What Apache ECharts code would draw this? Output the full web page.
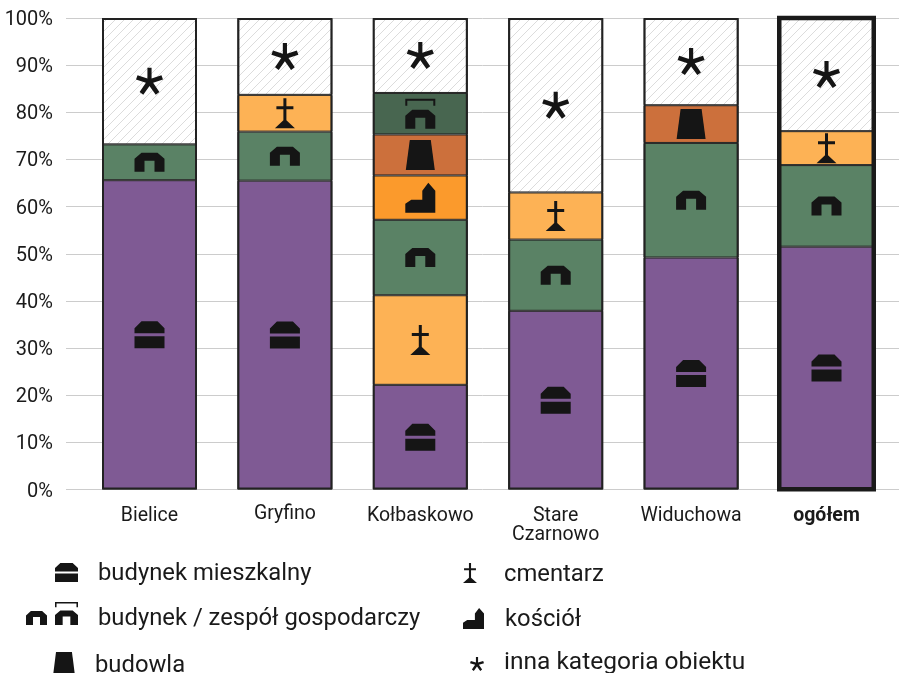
<!DOCTYPE html>
<html>
<head>
<meta charset="utf-8">
<style>
  html, body { margin: 0; padding: 0; background: #fff; }
  #chart { width: 899px; height: 673px; }
</style>
<script src="https://cdn.jsdelivr.net/npm/echarts@6/dist/echarts.min.js"></script>
</head>
<body>
<div id="chart"></div>
<script>
const categories = ['Bielice', 'Gryfino', 'Kołbaskowo', 'Stare\nCzarnowo', 'Widuchowa', 'ogółem'];
const yTicks = [0, 10, 20, 30, 40, 50, 60, 70, 80, 90, 100];

// stack order is bottom to top, Kołbaskowo has the cemetery under the farm block
const mieszkalny = [65.6, 65.5, 22.2, 37.9, 49.2, 51.5];
const cmentarzDol = [null, null, 19.0, null, null, null];
const gospodarczy = [7.6, 10.4, 16.0, 15.1, 24.3, 17.3];
const cmentarz = [null, 7.8, null, 10.0, null, 7.2];
const kosciol = [null, null, 9.4, null, null, null];
const budowla = [null, null, 8.7, null, 8.0, null];
const zespol = [null, null, 8.8, null, null, null];
const inna = [26.8, 16.3, 15.9, 37.0, 18.5, 24.0];
const outlineBars = [100, 100, 100, 100, 100, null];
const ogolemFrame = [null, null, null, null, null, 100];

const ICON_HOUSE = 'M7 0H23L30 7V12H0V7ZM0 15H30V27H0Z';
const ICON_FARM = 'M7 0H23L30 6V19H20V8H10V19H0V6Z';
const ICON_FARM_B = 'M0 7V0H30V7H28V2H2V7ZM7 11H23L30 17V30H20V19H10V30H0V17Z';
const ICON_BUILD = 'M4 0H25L29 30H0Z';
const ICON_CHURCH = 'M23 0L30 8V30H0V21L6 17H17V8Z';
const ICON_CROSS = 'M8.5 0H11.5V8H18.5V11H11.5V22L20 30H0L8.5 22V11H1.5V8H8.5Z';
const ICON_STAR = 'M11.5 0H15.5V10L25 7L26.5 11L17 14L23 22.5L19.5 25L13.5 17L7.5 25L4 22.5L10 14L0.5 11L2 7L11.5 10Z';

function hatch() {
  const c = document.createElement('canvas');
  c.width = 9;
  c.height = 9;
  const g = c.getContext('2d');
  g.fillStyle = '#fff';
  g.fillRect(0, 0, 9, 9);
  g.strokeStyle = '#dcdcdc';
  g.lineWidth = 1;
  g.beginPath();
  g.moveTo(-1, 10); g.lineTo(10, -1);
  g.moveTo(-1, 1); g.lineTo(1, -1);
  g.moveTo(8, 10); g.lineTo(10, 8);
  g.stroke();
  return c;
}

const layers = [
  { name: 'budynek mieszkalny', values: mieszkalny, color: '#7f5a94', icon: ICON_HOUSE, size: [30, 27] },
  { name: 'cmentarz', values: cmentarzDol, color: '#fdb255', icon: ICON_CROSS, size: [20, 30] },
  { name: 'budynek gospodarczy', values: gospodarczy, color: '#5a8265', icon: ICON_FARM, size: [30, 19] },
  { name: 'cmentarz', values: cmentarz, color: '#fdb255', icon: ICON_CROSS, size: [20, 30] },
  { name: 'kościół', values: kosciol, color: '#fb9a2c', icon: ICON_CHURCH, size: [30, 30] },
  { name: 'budowla', values: budowla, color: '#cc703c', icon: ICON_BUILD, size: [29, 30] },
  { name: 'zespół gospodarczy', values: zespol, color: '#486650', icon: ICON_FARM_B, size: [30, 30] },
  { name: 'inna kategoria obiektu', values: inna, color: { image: hatch(), repeat: 'repeat' }, icon: ICON_STAR, size: [27, 27] }
];

const series = [];
const running = categories.map(() => 0);
layers.forEach(function (l) {
  series.push({
    name: l.name,
    type: 'bar',
    xAxisIndex: 1,
    yAxisIndex: 1,
    stack: 'all',
    barWidth: 95,
    barGap: '-100%',
    // echarts insets a bar by half its border, two neighbours add up to a 2px line
    itemStyle: { color: l.color, borderColor: '#222', borderWidth: 1 },
    data: l.values
  });
  const points = [];
  l.values.forEach(function (v, i) {
    if (v == null) return;
    points.push([i, running[i] + v / 2]);
    running[i] += v;
  });
  series.push({
    type: 'scatter',
    xAxisIndex: 1,
    yAxisIndex: 1,
    symbol: 'path://' + l.icon,
    symbolSize: l.size,
    itemStyle: { color: '#151515', opacity: 1 },
    z: 5,
    data: points
  });
});
series.push({
  name: 'obrys',
  type: 'bar',
  xAxisIndex: 1,
  yAxisIndex: 1,
  barWidth: 95,
  barGap: '-100%',
  itemStyle: { color: 'rgba(0,0,0,0)', borderColor: '#222', borderWidth: 2 },
  z: 4,
  data: outlineBars
});
series.push({
  name: 'ogółem',
  type: 'bar',
  xAxisIndex: 3,
  yAxisIndex: 3,
  barWidth: 99,
  itemStyle: { color: 'rgba(0,0,0,0)', borderColor: '#1a1a1a', borderWidth: 4.5 },
  z: 4,
  data: ogolemFrame
});

// legend glyphs sit on a third grid that just maps to page pixels
function legendIcon(path, x, y, w, h) {
  series.push({
    type: 'scatter',
    xAxisIndex: 2,
    yAxisIndex: 2,
    clip: false,
    symbol: 'path://' + path,
    symbolSize: [w, h],
    itemStyle: { color: '#151515', opacity: 1 },
    data: [[x + w / 2, y + h / 2]]
  });
}
function legendText(text, x, y, size) {
  return { type: 'text', x: x, y: y, style: { text: text, fill: '#1a1a1a', font: (size || 23.8) + 'px Roboto', verticalAlign: 'middle' } };
}
legendIcon(ICON_HOUSE, 55, 563, 23, 19);
legendIcon(ICON_FARM, 26, 611, 21, 14);
legendIcon(ICON_FARM_B, 55, 602, 23, 23);
legendIcon(ICON_BUILD, 53, 652, 22, 24);
legendIcon(ICON_CROSS, 463, 563, 14, 20);
legendIcon(ICON_CHURCH, 463, 608, 21, 21);
legendIcon(ICON_STAR, 470, 657, 14, 14);

const myChart = echarts.init(document.getElementById('chart'), null, { renderer: 'canvas' });
myChart.setOption({
  animation: false,
  backgroundColor: '#fff',
  grid: [
    { left: 66, width: 833, top: 18, height: 471.5 },
    { left: 81.8, width: 812.4, top: 18, height: 471.5 },
    { left: 0, top: 0, width: 899, height: 673 },
    { left: 81.8, width: 812.4, top: 15.7, height: 475.8 }
  ],
  xAxis: [
    { gridIndex: 0, type: 'category', data: categories, show: false },
    {
      gridIndex: 1,
      type: 'category',
      data: categories,
      axisLine: { show: false },
      axisTick: { show: false },
      axisLabel: {
        interval: 0,
        margin: 17,
        fontFamily: 'Roboto',
        fontSize: 19.5,
        lineHeight: 19,
        color: '#1a1a1a',
        formatter: function (v) {
          if (v === 'ogółem') return '{b|' + v + '}';
          if (v === 'Gryfino') return '{g|' + v + '}';
          return v;
        },
        rich: {
          b: { fontFamily: 'Roboto', fontSize: 19.5, fontWeight: 'bold', color: '#1a1a1a' },
          g: { fontFamily: 'Roboto', fontSize: 19.5, color: '#1a1a1a', padding: [0, 0, 4, 0] }
        }
      }
    },
    { gridIndex: 2, type: 'value', min: 0, max: 899, show: false },
    { gridIndex: 3, type: 'category', data: categories, show: false }
  ],
  yAxis: [
    {
      gridIndex: 0,
      type: 'value',
      min: 0,
      max: 100,
      interval: 10,
      axisLine: { show: false },
      axisTick: { show: false },
      splitLine: { lineStyle: { color: '#cccccc', width: 1 } },
      axisLabel: {
        margin: 13,
        formatter: function (v) { return yTicks.includes(v) ? '{t|' + v + '%}' : ''; },
        rich: { t: { fontFamily: 'Roboto', fontSize: 20, color: '#1a1a1a', padding: [4, 0, 0, 0] } }
      }
    },
    { gridIndex: 1, type: 'value', min: 0, max: 100, interval: 10, show: false },
    { gridIndex: 2, type: 'value', min: 0, max: 673, inverse: true, show: false },
    { gridIndex: 3, type: 'value', min: 0, max: 100, interval: 10, show: false }
  ],
  series: series,
  graphic: { elements: [
    legendText('budynek mieszkalny', 98, 574),
    legendText('budynek / zespół gospodarczy', 98, 619),
    legendText('budowla', 95, 666),
    legendText('cmentarz', 504, 575),
    legendText('kościół', 505, 620),
    legendText('inna kategoria obiektu', 504, 663, 24.5)
  ] }
});
</script>
</body>
</html>
